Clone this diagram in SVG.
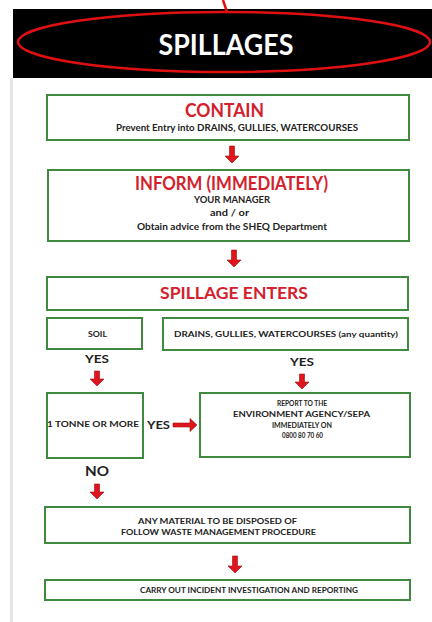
<svg xmlns="http://www.w3.org/2000/svg" width="432" height="622" viewBox="0 0 432 622">
<style>
.box{fill:#fff;stroke:#3f8a3f;stroke-width:2}
.t{font-family:Lato,"Open Sans","Liberation Sans",sans-serif;font-weight:bold;text-anchor:middle;fill:#222}
.r{fill:#d4202c}
.arr{fill:#e0141c;stroke:#9a1010;stroke-width:0.6}
</style>
<rect x="0" y="0" width="432" height="622" fill="#fff"/>
<rect x="10" y="78" width="3" height="544" fill="#e4e4e4"/>
<g id="header">
<rect x="13" y="9" width="419" height="69" fill="#000"/>
<text class="t" x="226" y="55" font-size="28" style="fill:#fff" textLength="135" lengthAdjust="spacingAndGlyphs">SPILLAGES</text>
<ellipse cx="224" cy="42" rx="206" ry="30" fill="none" stroke="#e01010" stroke-width="2.5"/>
<line x1="223" y1="0" x2="227" y2="12" stroke="#e01010" stroke-width="2.5"/>
</g>
<g id="contain">
<rect class="box" x="47" y="95" width="362" height="45"/>
<text class="t r" x="224.5" y="116.5" font-size="18" textLength="79" lengthAdjust="spacingAndGlyphs">CONTAIN</text>
<text class="t" x="237" y="131" font-size="8.5" textLength="242" lengthAdjust="spacingAndGlyphs">Prevent Entry into DRAINS, GULLIES, WATERCOURSES</text>
</g>
<g id="inform">
<rect class="box" x="48" y="170" width="361" height="71"/>
<text class="t r" x="231.5" y="189.5" font-size="19" textLength="193" lengthAdjust="spacingAndGlyphs">INFORM (IMMEDIATELY)</text>
<text class="t" x="232" y="203" font-size="8.5" textLength="76" lengthAdjust="spacingAndGlyphs">YOUR MANAGER</text>
<text class="t" x="229.5" y="216" font-size="8.5" textLength="39" lengthAdjust="spacingAndGlyphs">and / or</text>
<text class="t" x="232" y="229.5" font-size="8.5" textLength="190" lengthAdjust="spacingAndGlyphs">Obtain advice from the SHEQ Department</text>
</g>
<g id="spillage-enters">
<rect class="box" x="47" y="277" width="361" height="33"/>
<text class="t r" x="234" y="299" font-size="17" textLength="148" lengthAdjust="spacingAndGlyphs">SPILLAGE ENTERS</text>
</g>
<g id="soil">
<rect class="box" x="47" y="318" width="95" height="31"/>
<text class="t" x="97.5" y="337" font-size="8" textLength="19" lengthAdjust="spacingAndGlyphs">SOIL</text>
</g>
<g id="drains">
<rect class="box" x="163" y="318" width="245" height="32"/>
<text class="t" x="286" y="337" font-size="8" textLength="224" lengthAdjust="spacingAndGlyphs">DRAINS, GULLIES, WATERCOURSES (any quantity)</text>
</g>
<g id="tonne">
<rect class="box" x="47" y="393" width="96" height="65"/>
<text class="t" x="93" y="427" font-size="8" textLength="92" lengthAdjust="spacingAndGlyphs">1 TONNE OR MORE</text>
</g>
<g id="report">
<rect class="box" x="200" y="393" width="210" height="64"/>
<text class="t" x="302" y="406" font-size="8" textLength="50" lengthAdjust="spacingAndGlyphs">REPORT TO THE</text>
<text class="t" x="301.5" y="417" font-size="8" textLength="137" lengthAdjust="spacingAndGlyphs">ENVIRONMENT AGENCY/SEPA</text>
<text class="t" x="302" y="427.5" font-size="8" textLength="60" lengthAdjust="spacingAndGlyphs">IMMEDIATELY ON</text>
<text class="t" x="302.5" y="438" font-size="8" textLength="41" lengthAdjust="spacingAndGlyphs">0800 80 70 60</text>
</g>
<g id="dispose">
<rect class="box" x="45" y="507" width="365" height="36"/>
<text class="t" x="217.5" y="524" font-size="8" textLength="159" lengthAdjust="spacingAndGlyphs">ANY MATERIAL TO BE DISPOSED OF</text>
<text class="t" x="218.5" y="535" font-size="8" textLength="195" lengthAdjust="spacingAndGlyphs">FOLLOW WASTE MANAGEMENT PROCEDURE</text>
</g>
<g id="investigate">
<rect class="box" x="45" y="580" width="365" height="20"/>
<text class="t" x="249" y="593" font-size="8" textLength="218" lengthAdjust="spacingAndGlyphs">CARRY OUT INCIDENT INVESTIGATION AND REPORTING</text>
</g>
<g id="connectors">
<path class="arr" d="M229.5 146h5v10h4.5l-7 7l-7-7h4.5z"/>
<path class="arr" d="M231.5 250h5v10h4.5l-7 7l-7-7h4.5z"/>
<path class="arr" d="M94.5 371h5v8h4.5l-7 7l-7-7h4.5z"/>
<path class="arr" d="M299.5 374h5v8h4.5l-7 7l-7-7h4.5z"/>
<path class="arr" d="M94.5 484h5v8h4.5l-7 7l-7-7h4.5z"/>
<path class="arr" d="M232.5 556h5v10h4.5l-7 7l-7-7h4.5z"/>
<path class="arr" d="M173 423h17v-4.5l7 6.5l-7 6.5v-4.5h-17z"/>
<text class="t" x="97" y="363" font-size="12" textLength="24" lengthAdjust="spacingAndGlyphs">YES</text>
<text class="t" x="302" y="366" font-size="12" textLength="24" lengthAdjust="spacingAndGlyphs">YES</text>
<text class="t" x="158.5" y="429" font-size="12" textLength="23" lengthAdjust="spacingAndGlyphs">YES</text>
<text class="t" x="97" y="476" font-size="13" textLength="24" lengthAdjust="spacingAndGlyphs">NO</text>
</g>
</svg>
